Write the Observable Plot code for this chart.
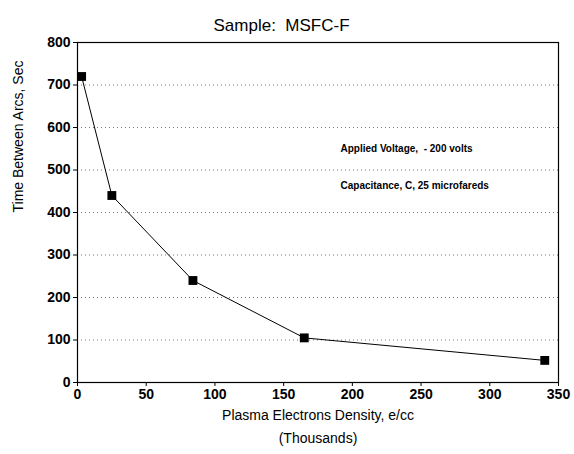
<!DOCTYPE html>
<html>
<head>
<meta charset="utf-8">
<script src="https://cdn.jsdelivr.net/npm/d3@7"></script>
<script src="https://cdn.jsdelivr.net/npm/@observablehq/plot@0.6"></script>
<style>
  html, body { margin: 0; padding: 0; background: #fff; }
  #chart svg { display: block; }
</style>
</head>
<body>
<div id="chart"></div>
<script>
// Data
const density = [3, 25, 84, 165, 340];          // Plasma electrons density, thousands e/cc
const timeBetweenArcs = [720, 440, 240, 105, 52]; // seconds
const xTicks = [0, 50, 100, 150, 200, 250, 300, 350];
const yTicks = [0, 100, 200, 300, 400, 500, 600, 700, 800];
const gridValues = [100, 200, 300, 400, 500, 600, 700];
const titleText = "Sample:  MSFC-F";
const xLabelLines = ["Plasma Electrons Density, e/cc", "(Thousands)"];
const yLabelText = "Time Between Arcs, Sec";
const notes = ["Applied Voltage,  - 200 volts", "Capacitance, C, 25 microfareds"];

const points = density.map((d, i) => ({x: d, y: timeBetweenArcs[i]}));

const chart = Plot.plot({
  width: 574,
  height: 454,
  marginLeft: 77,
  marginRight: 16,
  marginTop: 42,
  marginBottom: 72,
  style: {fontFamily: "'Liberation Sans', Arial, sans-serif", background: "#fff", color: "#000"},
  x: {domain: [0, 350], ticks: xTicks},
  y: {domain: [0, 800], ticks: yTicks},
  marks: [
    Plot.ruleY(gridValues, {stroke: "#777", strokeDasharray: "1,3", strokeWidth: 1}),
    Plot.frame({stroke: "#000", strokeWidth: 1.2}),
    Plot.axisX({ticks: xTicks, tickSize: 4, tickPadding: 3, label: null,
      fontSize: 14, fontWeight: "bold", stroke: "#000"}),
    Plot.axisY({ticks: yTicks, tickSize: 4, tickPadding: 3, label: null,
      fontSize: 14, fontWeight: "bold"}),
    Plot.line(points, {x: "x", y: "y", stroke: "#000", strokeWidth: 1}),
    Plot.dot(points, {x: "x", y: "y", symbol: "square", r: 5, fill: "#000", stroke: "none"}),
    // Title
    Plot.text([titleText], {frameAnchor: "top-left", dx: 136, dy: -24, text: d => d,
      fontSize: 17, textAnchor: "start", fill: "#000"}),
    // Y label
    Plot.text([yLabelText], {frameAnchor: "left", dx: -59, dy: 0, rotate: -90, text: d => d,
      fontSize: 14, fill: "#000"}),
    // X label (two lines)
    Plot.text([xLabelLines[0]], {frameAnchor: "bottom", dx: 0, dy: 37, text: d => d,
      fontSize: 14, fill: "#000"}),
    Plot.text([xLabelLines[1]], {frameAnchor: "bottom", dx: 0, dy: 60, text: d => d,
      fontSize: 14, fill: "#000"}),
    // Annotations
    Plot.text([notes[0]], {frameAnchor: "top-left", dx: 263, dy: 102, text: d => d,
      fontSize: 10, fontWeight: "bold", textAnchor: "start", fill: "#000"}),
    Plot.text([notes[1]], {frameAnchor: "top-left", dx: 263, dy: 139, text: d => d,
      fontSize: 10, fontWeight: "bold", textAnchor: "start", fill: "#000"})
  ]
});
document.getElementById("chart").appendChild(chart);
</script>
</body>
</html>
